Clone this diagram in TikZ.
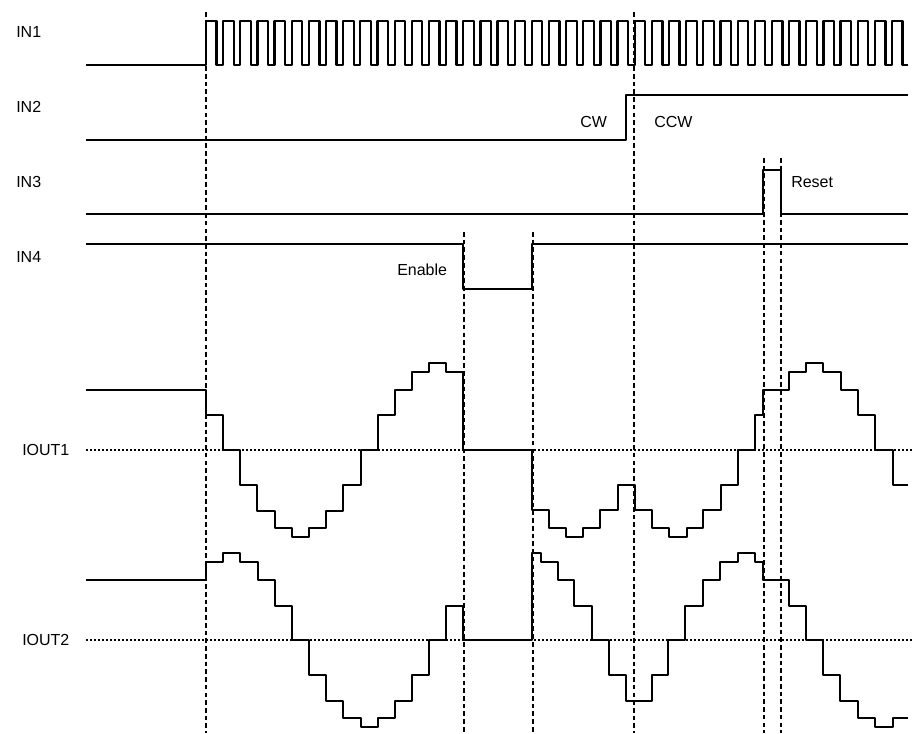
\documentclass[tikz,border=0pt]{standalone}
\usepackage{fontspec}
\setmainfont{Liberation Sans}
\tikzset{
    signal/.style={line width=1.7pt, line join=round},
    guide/.style={line width=1.1pt, dash pattern=on 3.5pt off 2.3pt},
    zeroline/.style={line width=1.6pt, dash pattern=on 1.5pt off 1.5pt},
    sigtext/.style={font=\fontsize{12}{14}\selectfont, inner sep=0pt, anchor=west},
}
\begin{document}
\begin{tikzpicture}[x=0.75pt, y=-0.75pt]
        \useasboundingbox (0,0) rectangle (912,733);
        %guide lines
        \foreach \xg/\yg in {206/12, 464/232, 533/232, 634/12, 764/158, 781/158}
            \draw[guide] (\xg,\yg) -- (\xg,733);
        %zero levels
        \draw[zeroline] (86,450) -- (912,450);
        \draw[zeroline] (86,640) -- (912,640);
        %input signals
        \draw[signal] (86,65) \foreach \n in {0,...,40} { -- ({206+17.15*\n},65) -- ++(0,-44) -- ++(10.5,0) -- ++(0,44) } -- (908,65);
        \draw[signal] (86,140) -| (626,95) -- (908,95);
        \draw[signal] (86,214) -| (763,170) -| (781,214) -- (908,214);
        \draw[signal] (86,244) -| (463,289) -| (532,244) -- (908,244);
        %output currents
        \draw[signal] (86,390) -| (206,415) -| (223,450) -| (240,485) -| (257,511) -| (275,528) -| (292,537)
            -| (309,528) -| (326,511) -| (343,485) -| (361,450) -| (378,415) -| (395,390) -| (412,372)
            -| (429,363) -| (446,372) -| (463,450) -| (532,510) -| (549,528) -| (566,537) -| (583,528)
            -| (600,510) -| (618,485) -| (635,510) -| (652,528) -| (669,537) -| (687,528) -| (703,510)
            -| (721,485) -| (738,450) -| (755,415) -| (763,390) -| (789,372) -| (806,363) -| (823,372)
            -| (841,390) -| (858,415) -| (875,450) -| (893,485) -- (908,485);
        \draw[signal] (86,580) -| (206,562) -| (223,553) -| (240,562) -| (258,580) -| (275,606) -| (292,640)
            -| (309,675) -| (326,701) -| (343,718) -| (361,727) -| (378,718) -| (395,701) -| (412,675)
            -| (429,640) -| (446,606) -| (463,640) -| (532,553) -| (541,562) -| (558,580) -| (574,606)
            -| (592,640) -| (609,675) -| (626,701) -| (652,675) -| (668,640) -| (685,606) -| (703,580)
            -| (720,562) -| (738,553) -| (755,562) -| (763,580) -| (789,606) -| (806,640) -| (823,675)
            -| (840,701) -| (858,718) -| (875,727) -| (893,718) -- (908,718);
        %signal names
        \node[sigtext] (in1) at (16,32) {IN1};
        \node[sigtext] (in2) at (16,107) {IN2};
        \node[sigtext] (in3) at (16,182) {IN3};
        \node[sigtext] (in4) at (16,257) {IN4};
        \node[sigtext] (iout1) at (22,450) {IOUT1};
        \node[sigtext] (iout2) at (22,640) {IOUT2};
        %state labels
        \node[sigtext] (cw) at (580,122) {CW};
        \node[sigtext] (ccw) at (654,122) {CCW};
        \node[sigtext] (reset) at (791,182) {Reset};
        \node[sigtext] (enable) at (397,270) {Enable};
    \end{tikzpicture}
\end{document}
